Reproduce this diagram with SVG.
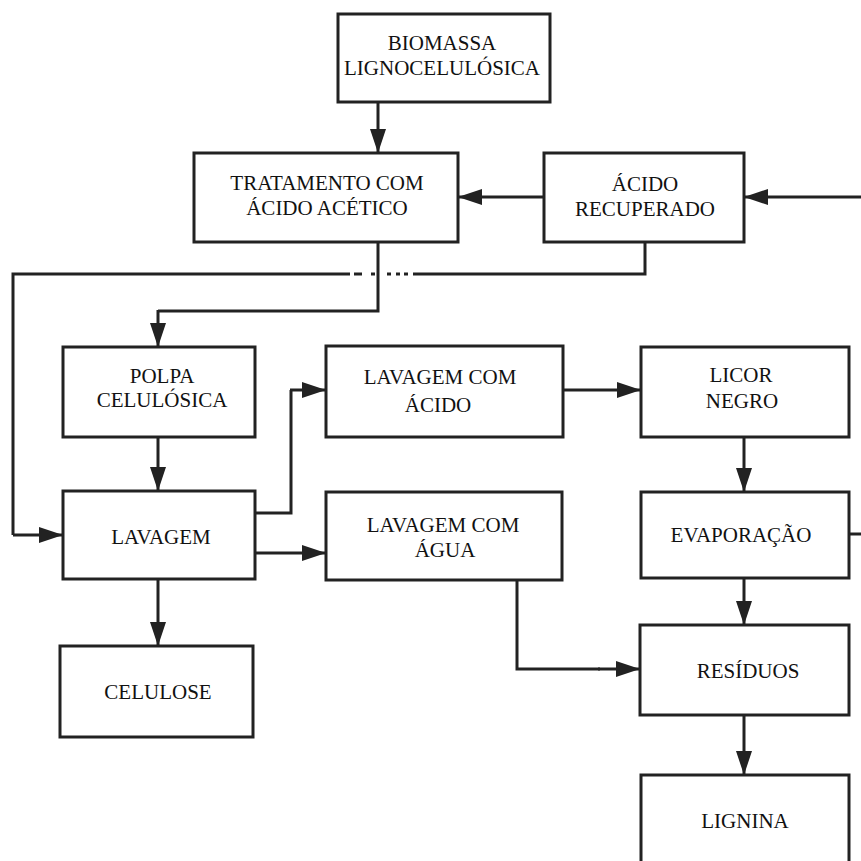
<svg xmlns="http://www.w3.org/2000/svg" width="861" height="861" viewBox="0 0 861 861">
<defs>
<marker id="ah" markerUnits="userSpaceOnUse" markerWidth="24" markerHeight="16" refX="24" refY="8" orient="auto">
<path d="M0,0 L24,8 L0,16 z" fill="#222"/>
</marker>
<style>
.box{fill:#fff;stroke:#222;stroke-width:3}
.ln{fill:none;stroke:#222;stroke-width:3}
.ar{fill:none;stroke:#222;stroke-width:3;marker-end:url(#ah)}
text{font-family:"Liberation Serif","Times New Roman",serif;font-size:21px;fill:#111;text-anchor:middle}
</style>
</defs>
<rect width="861" height="861" fill="#fff"/>
<g id="connectors">
<path class="ar" d="M378,102 V153"/>
<path class="ar" d="M544,197 H458"/>
<path class="ar" d="M861,197 H744"/>
<path class="ln" d="M645,242 V274 H413"/>
<path class="ln" d="M350,274 H13 V535"/>
<path class="ar" d="M13,535 H63"/>
<path class="ln" d="M354,274 H362 M371,274 H375 M387,274 H391 M396,274 H400 M404,274 H408"/>
<path class="ln" d="M378,242 V311 H158"/>
<path class="ar" d="M158,310 V347"/>
<path class="ar" d="M158,437 V491"/>
<path class="ln" d="M255,513 H291 V390"/>
<path class="ar" d="M290,390 H326"/>
<path class="ar" d="M255,553 H326"/>
<path class="ar" d="M563,390 H641"/>
<path class="ar" d="M744,437 V492"/>
<path class="ln" d="M849,534 H861"/>
<path class="ar" d="M744,578 V625"/>
<path class="ln" d="M517,580 V669 H600"/>
<path class="ar" d="M598,669 H640"/>
<path class="ar" d="M158,579 V646"/>
<path class="ar" d="M744,715 V775"/>
</g>
<g id="biomassa"><rect class="box" x="338" y="14" width="212" height="88"/><text x="442" y="50">BIOMASSA</text><text x="442" y="75">LIGNOCELULÓSICA</text></g>
<g id="tratamento"><rect class="box" x="194" y="153" width="264" height="89"/><text x="327" y="190">TRATAMENTO COM</text><text x="327" y="215">ÁCIDO ACÉTICO</text></g>
<g id="acido-recuperado"><rect class="box" x="544" y="153" width="200" height="89"/><text x="645" y="191">ÁCIDO</text><text x="645" y="216">RECUPERADO</text></g>
<g id="polpa"><rect class="box" x="63" y="347" width="192" height="90"/><text x="162" y="383">POLPA</text><text x="162" y="407">CELULÓSICA</text></g>
<g id="lavagem-acido"><rect class="box" x="326" y="346" width="237" height="91"/><text x="440" y="384">LAVAGEM COM</text><text x="438" y="412">ÁCIDO</text></g>
<g id="licor"><rect class="box" x="641" y="347" width="208" height="90"/><text x="741" y="382">LICOR</text><text x="742" y="408">NEGRO</text></g>
<g id="lavagem"><rect class="box" x="63" y="491" width="192" height="88"/><text x="161" y="544">LAVAGEM</text></g>
<g id="lavagem-agua"><rect class="box" x="326" y="492" width="236" height="88"/><text x="443" y="532">LAVAGEM COM</text><text x="445" y="557">ÁGUA</text></g>
<g id="evaporacao"><rect class="box" x="641" y="492" width="208" height="86"/><text x="741" y="542">EVAPORAÇÃO</text></g>
<g id="celulose"><rect class="box" x="60" y="646" width="193" height="91"/><text x="158" y="699">CELULOSE</text></g>
<g id="residuos"><rect class="box" x="640" y="625" width="209" height="90"/><text x="748" y="678">RESÍDUOS</text></g>
<g id="lignina"><rect class="box" x="641" y="775" width="208" height="100"/><text x="745" y="828">LIGNINA</text></g>
</svg>
